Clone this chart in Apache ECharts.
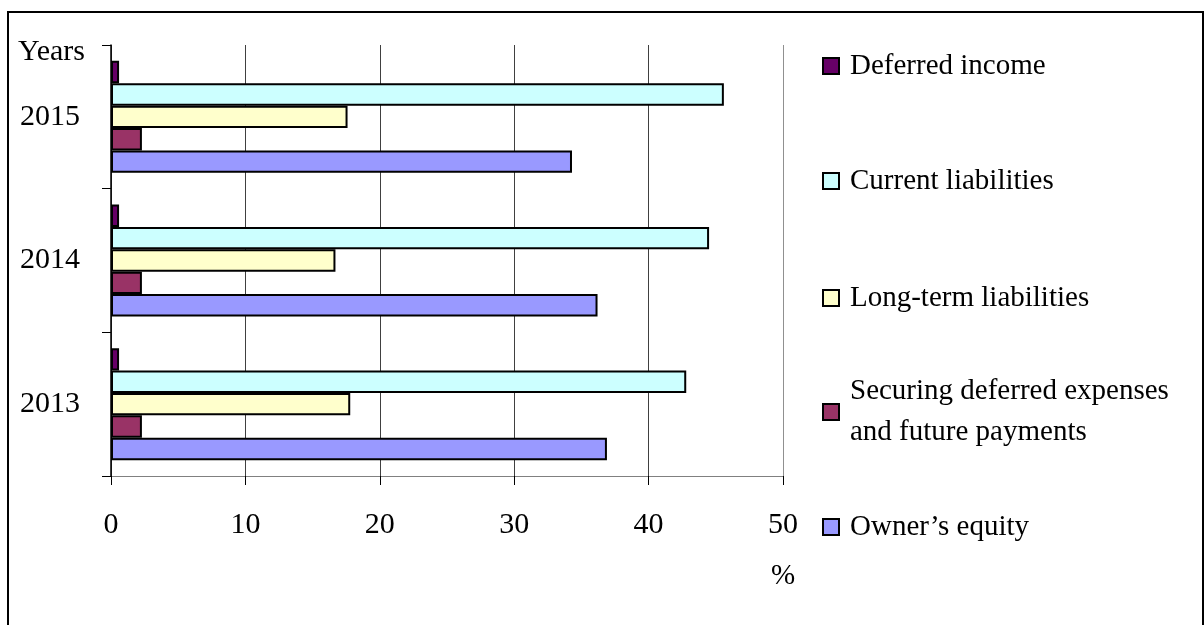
<!DOCTYPE html>
<html><head><meta charset="utf-8">
<script src="https://cdn.jsdelivr.net/npm/echarts@6/dist/echarts.min.js"></script>
<style>html,body{margin:0;padding:0;background:#fff}#c{width:1204px;height:625px}</style>
</head><body><div id="c"></div>
<script>
const years = ['2013', '2014', '2015'];
const seriesNames = ['Deferred income', 'Current liabilities', 'Long-term liabilities', 'Securing deferred expenses and future payments', 'Owner’s equity'];
const deferredIncome = [0.6, 0.6, 0.6];
const currentLiabilities = [42.8, 44.5, 45.6];
const longTermLiabilities = [17.8, 16.7, 17.6];
const securingDeferred = [2.3, 2.3, 2.3];
const ownersEquity = [36.9, 36.2, 34.3];
const seriesColors = ['#660066', '#CCFFFF', '#FFFFCC', '#993366', '#9999FF'];
const xMin = 0, xMax = 50, xStep = 10;
const yAxisTitle = 'Years';
const xAxisUnit = '%';

const values = [deferredIncome, currentLiabilities, longTermLiabilities, securingDeferred, ownersEquity];
const FONT = '"Liberation Serif", "Times New Roman", serif';
const legendTops = [45.5, 160.5, 277.5, 371, 506.5];

const chart = echarts.init(document.getElementById('c'), null, {renderer: 'canvas'});
const option = {
  backgroundColor: '#fff',
  animation: false,
  textStyle: {fontFamily: FONT, color: '#000'},
  grid: {left: 111, right: 421, top: 45, bottom: 149, containLabel: false},
  xAxis: {
    type: 'value', min: xMin, max: xMax, interval: xStep,
    axisLine: {show: true, lineStyle: {color: '#808080', width: 1}},
    axisTick: {show: true, length: 9, lineStyle: {color: '#000', width: 1}},
    axisLabel: {fontFamily: FONT, fontSize: 30, color: '#000', margin: 34},
    splitLine: {show: true, lineStyle: {color: ['#404040','#404040','#404040','#404040','#404040','#909090'], width: 1}}
  },
  yAxis: {
    type: 'category', data: years,
    axisLine: {show: true, lineStyle: {color: '#000', width: 1.5}},
    axisTick: {show: true, length: 9, lineStyle: {color: '#000', width: 1}},
    axisLabel: {fontFamily: FONT, fontSize: 30, color: '#000', margin: 31},
    splitLine: {show: false}
  },
  legend: seriesNames.map((n, i) => ({
    data: [n], left: 822, top: legendTops[i], orient: 'vertical', padding: 0,
    itemWidth: 16, itemHeight: 16, icon: 'rect', selectedMode: false,
    itemStyle: {borderColor: '#000', borderWidth: 2},
    formatter: name => name.replace(' and ', '\nand '),
    textStyle: {fontFamily: FONT, fontSize: 29, color: '#000', lineHeight: 41, padding: [0, 0, 0, 6]}
  })),
  series: seriesNames.map((n, i) => ({
    name: n, type: 'bar', data: values[i],
    barGap: '0%', barCategoryGap: '22%',
    itemStyle: {color: seriesColors[i], borderColor: '#000', borderWidth: 2},
    silent: true
  })),
  graphic: [
    {type: 'rect', shape: {x: 8, y: 12, width: 1195, height: 630}, style: {fill: 'none', stroke: '#000', lineWidth: 2}, silent: true},
    {type: 'text', x: 18, y: 52, style: {text: yAxisTitle, font: '30px ' + FONT, fill: '#000', textVerticalAlign: 'middle'}},
    {type: 'text', x: 783, y: 576, style: {text: xAxisUnit, font: '29px ' + FONT, fill: '#000', textAlign: 'center', textVerticalAlign: 'middle'}}
  ]
};
chart.setOption(option);
</script></body></html>
